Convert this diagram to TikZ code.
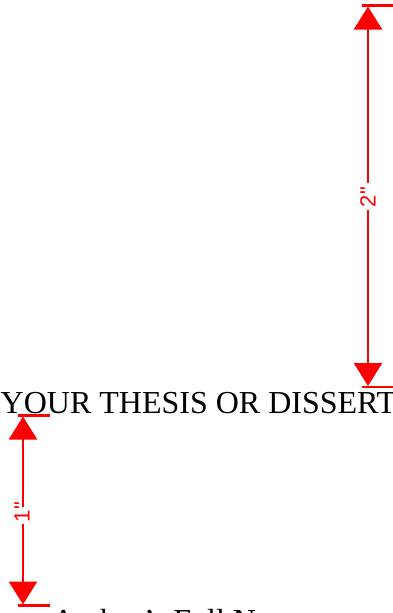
\documentclass[tikz,border=0pt]{standalone}
\usepackage{fontspec}
\setmainfont{Liberation Serif}
\newfontfamily\dimfont{Liberation Sans}
\usetikzlibrary{arrows.meta}
\tikzset{
  dimhead/.style={draw=red, line width=2.5pt, -{Triangle[length=23pt,width=28pt]}},
  dimtick/.style={draw=red, line width=2.5pt},
  dimlabel/.style={text=red, font=\dimfont\fontsize{22}{22}\selectfont, rotate=90, inner sep=0pt},
  titletext/.style={font=\fontsize{32}{32}\selectfont, inner sep=0pt, anchor=base west}
}
\begin{document}
\begin{tikzpicture}[x=1pt,y=-1pt]
\useasboundingbox (0,0) rectangle (393,613);
% top dimension (2")
\coordinate (ta) at (368,6.5);
\coordinate (tb) at (368,386);
\coordinate (tg1) at (368,183);
\coordinate (tg2) at (368,210);
\draw[dimtick] (362,5.5) -- (393,5.5);
\draw[dimtick] (362,387) -- (393,387);
\draw[dimhead] (tg1) -- (ta);
\draw[dimhead] (tg2) -- (tb);
\node[dimlabel] (two) at (368,197) {2"};
% title
\node[titletext] (title) at (0.5,413) {YOUR THESIS OR DISSERTATION};
% left dimension (1")
\coordinate (la) at (23,416.5);
\coordinate (lb) at (23,604.5);
\coordinate (lg1) at (23,507);
\coordinate (lg2) at (23,524);
\draw[dimtick] (18,415.5) -- (50,415.5);
\draw[dimtick] (18,605.5) -- (50,605.5);
\draw[dimhead] (lg1) -- (la);
\draw[dimhead] (lg2) -- (lb);
\node[dimlabel] (one) at (22,512) {1"};
% author
\node[titletext] (author) at (52,631) {Author's Full Name};
\end{tikzpicture}
\end{document}
